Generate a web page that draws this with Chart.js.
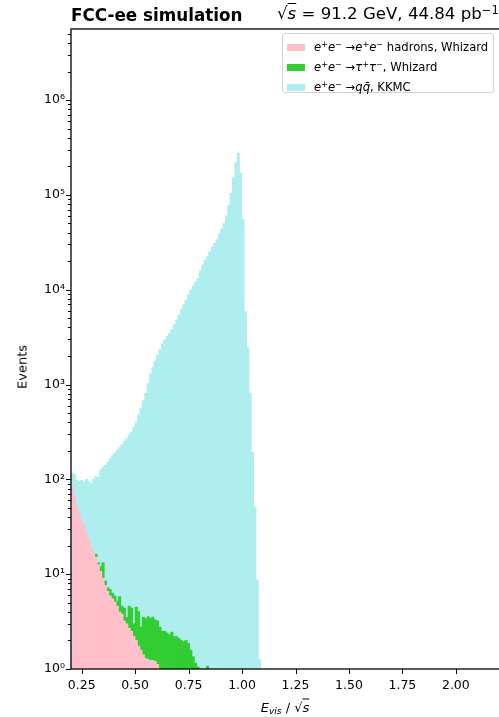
<!DOCTYPE html>
<html>
<head>
<meta charset="utf-8">
<script src="https://cdn.jsdelivr.net/npm/chart.js@4.4.1/dist/chart.umd.min.js"></script>
<style>
  body { margin: 0; width: 499px; height: 717px; overflow: hidden; background: #fff; position: relative;
         font-family: "DejaVu Sans", sans-serif; color: #000; }
  #wrap { position: absolute; left: 0; top: 0; width: 520px; height: 717px; }
  .txt { position: absolute; white-space: nowrap; }
  #title-left { left: 71px; top: 5px; font-weight: bold; font-size: 16.8px; }
  #title-right { left: 277px; top: 4px; font-size: 16.6px; }
  #ylabel { left: 22px; top: 367px; transform: translate(-50%, -50%) rotate(-90deg); font-size: 13px; }
  #xlabel { left: 285px; top: 707px; transform: translate(-50%, -50%); font-size: 13px; }
  #legend { position: absolute; left: 282px; top: 33px; width: 210px; height: 58px;
            border: 1px solid #d3d3d3; border-radius: 3px; background: rgba(255,255,255,0.8); font-size: 11.6px; }
  .row { position: absolute; left: 4px; height: 14px; display: flex; align-items: center; white-space: nowrap; }
  .patch { width: 18px; height: 7px; margin-right: 9px; }
  sup, sub { font-size: 70%; line-height: 0; }
  sup { vertical-align: 0.45em; }
  sub { vertical-align: -0.25em; }
  .ov { text-decoration: overline; }
</style>
</head>
<body>
<div id="wrap"><canvas id="chart" width="520" height="717"></canvas></div>
<div class="txt" id="title-left">FCC-ee simulation</div>
<div class="txt" id="title-right">√<i class="ov">s</i> = 91.2 GeV, 44.84 pb<sup>−1</sup></div>
<div class="txt" id="ylabel">Events</div>
<div class="txt" id="xlabel"><i>E<sub>vis</sub></i> / √<i class="ov">s</i></div>
<div id="legend"></div>
<script>
// histogram bins (lower edge + width)
const binStart = 0.2;
const binWidth = 0.0111;

const hadronsWhizard = [83, 66, 52, 43, 37, 32, 28, 23, 19, 17,
  15.1, 12.6, 10.7, 9.1, 7.6, 6.6, 5.9, 5.5, 5.1, 4.6,
  4.0, 3.8, 3.2, 3.0, 2.7, 2.5, 2.2, 2.0, 1.74, 1.58,
  1.41, 1.29, 1.26, 1.23, 1.23, 1.2, 1.12];

const tautauWhizard = [null, null, null, null, null, null, null, null, null, null,
  1.1, 0.6, 1.3, 4.1, 0.9, 0.6, 1.0, 0.8, 0.8, 0.6,
  1.8, 0.8, 1.2, 0.5, 1.9, 1.9, 0.8, 2.5, 2.3, 1.2,
  2.1, 2.1, 2.3, 2.2, 2.3, 2.1, 2.1, 2.75, 2.5, 2.5,
  2.4, 2.3, 2.45, 2.2, 2.2, 2.1, 2.0, 1.95, 2.0, 1.86,
  1.58, 1.35, 1.15, 1.05, null, null, null, 1.07];

const qqKKMC = [34, 46, 46, 52, 61, 61, 72, 72, 72, 83,
  91, 92, 114, 122, 132, 144, 159, 172, 185, 199,
  213, 229, 247, 265, 290, 312, 352, 393, 475, 559,
  672, 810, 1020, 1285, 1511, 1775, 2039, 2341, 2689, 2948,
  3233, 3464, 3799, 4263, 4783, 5367, 6163, 6915, 7759, 8910,
  9998, 10963, 12021, 13181, 15849, 18197, 20417, 22386, 25119, 28184,
  30903, 33884, 38905, 43652, 50119, 60256, 77625, 104713, 151356, 218776,
  275423, 169824, 54954, 5888, 2455, 813, 191, 51, 8.7, 1.26];

const seriesNames = ['ee→ee hadrons, Whizard', 'ee→ττ, Whizard', 'ee→qq̄, KKMC'];
const seriesLegend = [
  '<i>e</i><sup>+</sup><i>e</i><sup>−</sup> →<i>e</i><sup>+</sup><i>e</i><sup>−</sup> hadrons, Whizard',
  '<i>e</i><sup>+</sup><i>e</i><sup>−</sup> →<i>τ</i><sup>+</sup><i>τ</i><sup>−</sup>, Whizard',
  '<i>e</i><sup>+</sup><i>e</i><sup>−</sup> →<i>q</i><i>q̄</i>, KKMC'
];
const seriesColors = ['#ffc0cb', '#32cd32', '#afeeee'];

const xTicks = [0.25, 0.5, 0.75, 1.0, 1.25, 1.5, 1.75, 2.0];
const yTicks = [1, 10, 100, 1e3, 1e4, 1e5, 1e6];
const supDigits = '⁰¹²³⁴⁵⁶⁷⁸⁹';

function toPoints(values) {
    return values.map((v, i) => ({x: binStart + (i + 0.5) * binWidth, y: v}));
}

const axisDecor = {
    id: 'axisDecor',
    afterDraw(chart) {
        const {ctx, chartArea: a, scales: {x, y}} = chart;
        ctx.save();
        ctx.strokeStyle = '#000';
        ctx.lineWidth = 1;
        ctx.beginPath();
        xTicks.forEach(v => {
            const px = Math.round(x.getPixelForValue(v)) + 0.5;
            ctx.moveTo(px, a.bottom);
            ctx.lineTo(px, a.bottom + 5);
        });
        for (let e = 0; e <= 6; e++) {
            for (let m = 1; m <= 9; m++) {
                const v = m * Math.pow(10, e);
                if (v > y.max) break;
                const py = Math.round(y.getPixelForValue(v)) + 0.5;
                ctx.moveTo(a.left, py);
                ctx.lineTo(a.left - (m === 1 ? 5 : 3), py);
            }
        }
        ctx.stroke();
        ctx.lineWidth = 1.3;
        ctx.strokeRect(a.left, a.top, a.right - a.left, a.bottom - a.top);
        ctx.restore();
    }
};

Chart.defaults.font.family = '"DejaVu Sans", sans-serif';
Chart.defaults.color = '#000';

new Chart('chart', {
    type: 'bar',
    data: {
        datasets: [hadronsWhizard, tautauWhizard, qqKKMC].map((vals, i) => ({
            label: seriesNames[i],
            data: toPoints(vals),
            backgroundColor: seriesColors[i],
            borderWidth: 0,
            barPercentage: 1,
            categoryPercentage: 1
        }))
    },
    options: {
        responsive: false,
        animation: false,
        layout: {padding: {top: 29, left: 0, right: 0, bottom: 0}},
        plugins: {legend: {display: false}, tooltip: {enabled: false}, title: {display: false}},
        scales: {
            x: {
                type: 'linear', stacked: true, min: 0.2, max: 2.3, offset: false,
                grid: {display: false, drawTicks: false}, border: {display: false},
                afterBuildTicks: s => { s.ticks = xTicks.map(v => ({value: v})); },
                ticks: {autoSkip: false, maxRotation: 0, padding: 9, font: {size: 12.5},
                        callback: v => v.toFixed(2)},
                afterFit: s => { s.height = 48; }
            },
            y: {
                type: 'logarithmic', stacked: true, min: 1, max: 5.62e6,
                grid: {display: false, drawTicks: false}, border: {display: false},
                afterBuildTicks: s => { s.ticks = yTicks.map(v => ({value: v})); },
                ticks: {autoSkip: false, padding: 6, font: {size: 12.5},
                        callback: v => '10' + supDigits[Math.round(Math.log10(v))]},
                afterFit: s => { s.width = 71; }
            }
        }
    },
    plugins: [axisDecor]
});

// legend built from the series names and colours
document.getElementById('legend').innerHTML = seriesLegend.map((html, i) =>
    '<div class="row" style="top:' + (6 + i * 20) + 'px"><span class="patch" style="background:' +
    seriesColors[i] + '"></span><span>' + html + '</span></div>').join('');
</script>
</body>
</html>
